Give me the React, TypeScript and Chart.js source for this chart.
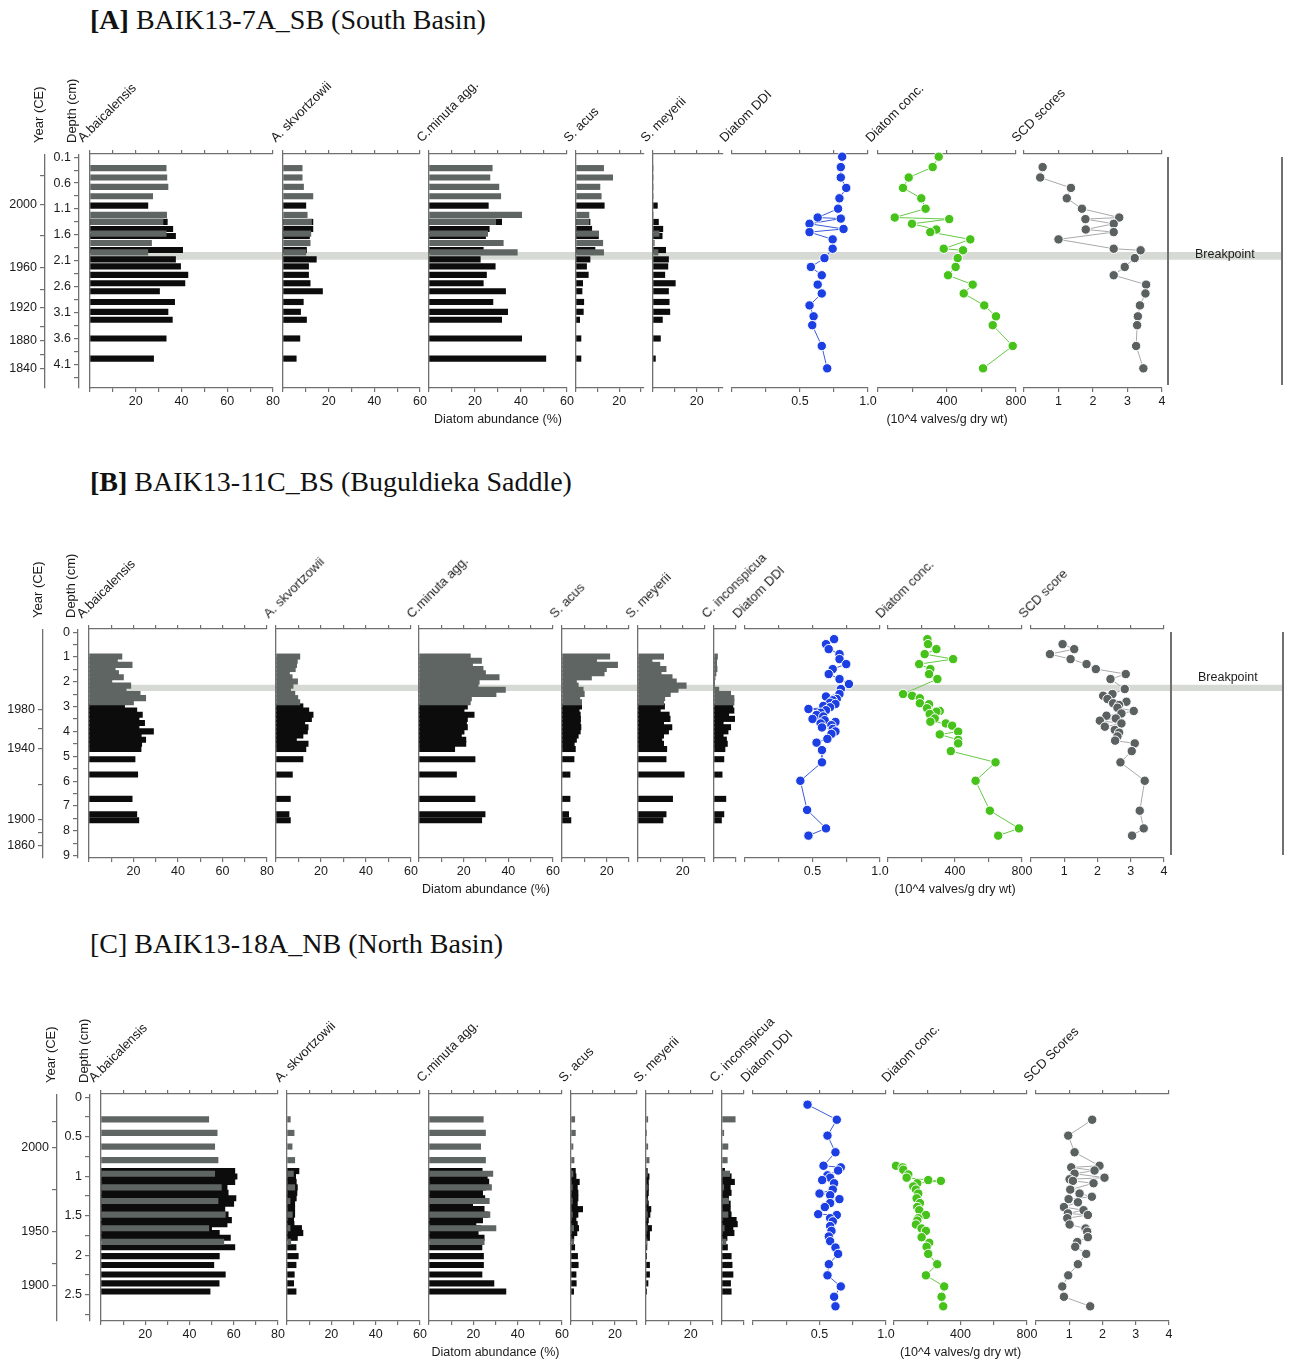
import React, { useEffect, useRef } from 'react';
import { Chart, registerables } from 'chart.js';

Chart.register(...registerables);

const SANS = '"Liberation Sans", Arial, Helvetica, sans-serif';
const SERIF = '"Liberation Serif", "Times New Roman", Times, serif';
Chart.defaults.font.family = SANS;
Chart.defaults.font.size = 12.5;
Chart.defaults.color = '#1b1b1b';

const TEXT = '#1b1b1b';
const AXIS_COLOR = '#707070';
const GRAY_BAR = '#5f6563';
const BLACK_BAR = '#0c0c0c';
const DDI_COLOR = '#1c3fe4';
const DDI_LINE = '#3b5bd9';
const CONC_COLOR = '#47c21b';
const CONC_LINE = '#66c944';
const SCD_COLOR = '#5b6060';
const SCD_LINE = '#a9a9a9';
const BAND_COLOR = '#d7dad4';

type Pair = [number, number]; // [value, depth cm]

// ================= DATA : [A] BAIK13-7A_SB =================
const A_GRAY_DEPTH = [0.1, 0.3, 0.5, 0.7, 1.1, 1.25, 1.5, 1.7, 1.9];
const A_BLACK_DEPTH = [0.9, 1.25, 1.4, 1.55, 1.85, 2.05, 2.2, 2.38, 2.56, 2.73, 2.96, 3.17, 3.34, 3.74, 4.17];
const A_BAIC_GRAY = [33.3, 33.6, 34.1, 27.4, 33.5, 31.9, 33.3, 26.9, 25.3];
const A_BAIC_BLACK = [25.3, 33.8, 36.2, 37.4, 40.5, 37.4, 39.6, 42.8, 41.5, 30.4, 37.0, 34.1, 36.0, 33.3, 27.8];
const A_SKV_GRAY = [8.4, 8.4, 9.0, 13.1, 10.6, 12.5, 12.2, 11.9, 10.0];
const A_SKV_BLACK = [10.0, 13.1, 13.1, 11.6, 10.3, 14.6, 11.2, 11.2, 11.9, 17.3, 8.9, 7.7, 10.3, 7.4, 5.8];
const A_CMIN_GRAY = [27.5, 26.5, 30.4, 31.2, 40.3, 29.0, 25.5, 32.3, 38.4];
const A_CMIN_BLACK = [25.8, 31.6, 26.2, 24.6, 23.6, 22.3, 28.8, 25.0, 23.6, 33.3, 27.8, 34.2, 31.6, 40.3, 50.8];
const A_SACUS_GRAY = [12.8, 17.0, 11.1, 11.7, 6.0, 6.0, 10.5, 12.4, 12.8];
const A_SACUS_BLACK = [13.1, 6.5, 7.3, 10.4, 8.8, 6.5, 4.9, 5.7, 3.1, 2.8, 3.6, 3.4, 1.7, 2.3, 2.3];
const A_SMEY_GRAY = [0, 0, 0, 0, 0, 0, 2.8, 0.6, 2.3];
const A_SMEY_BLACK = [2.0, 2.5, 4.5, 4.2, 5.8, 7.1, 6.8, 5.4, 10.2, 7.1, 7.4, 7.7, 4.3, 3.4, 1.1];
const A_DDI: Pair[] = [[0.81, 0.1], [0.80, 0.3], [0.80, 0.5], [0.84, 0.7], [0.79, 0.9], [0.78, 1.1], [0.63, 1.27], [0.80, 1.29], [0.57, 1.39], [0.82, 1.49], [0.57, 1.55], [0.74, 1.69], [0.74, 1.87], [0.68, 2.05], [0.58, 2.22], [0.66, 2.38], [0.63, 2.56], [0.66, 2.73], [0.57, 2.96], [0.60, 3.17], [0.59, 3.34], [0.66, 3.74], [0.70, 4.17]];
const A_CONC: Pair[] = [[352, 0.1], [317, 0.3], [178, 0.5], [145, 0.7], [251, 0.9], [276, 1.1], [97, 1.27], [413, 1.3], [197, 1.39], [338, 1.5], [303, 1.55], [535, 1.69], [381, 1.87], [493, 1.9], [462, 2.05], [450, 2.22], [406, 2.38], [549, 2.56], [497, 2.73], [616, 2.96], [684, 3.17], [665, 3.34], [781, 3.74], [609, 4.17]];
const A_SCD: Pair[] = [[0.54, 0.3], [0.47, 0.5], [1.36, 0.7], [1.24, 0.9], [1.68, 1.1], [2.76, 1.27], [1.78, 1.3], [2.60, 1.39], [1.79, 1.5], [2.60, 1.55], [1.0, 1.69], [2.60, 1.87], [3.38, 1.9], [3.21, 2.05], [2.92, 2.22], [2.60, 2.38], [3.54, 2.56], [3.52, 2.73], [3.36, 2.96], [3.30, 3.17], [3.28, 3.34], [3.25, 3.74], [3.46, 4.17]];
const A_DEPTH_TICKS = [0.1, 0.35, 0.6, 0.85, 1.1, 1.35, 1.6, 1.85, 2.1, 2.35, 2.6, 2.85, 3.1, 3.35, 3.6, 3.85, 4.1, 4.35];
const A_DEPTH_LABELS = ['0.1', '', '0.6', '', '1.1', '', '1.6', '', '2.1', '', '2.6', '', '3.1', '', '3.6', '', '4.1', ''];
const A_YEAR_DEPTHS = [0.465, 1.01, 1.61, 2.24, 2.65, 3.01, 3.38, 3.64, 3.92, 4.18];
const A_YEAR_LABELS = ['', '2000', '', '1960', '', '1920', '', '1880', '', '1840'];
const A_BREAKPOINT = 1.975;

// ================= DATA : [B] BAIK13-11C_BS =================
const B_GRAY_DEPTH = [0.3, 0.5, 0.7, 0.9, 1.1, 1.3, 1.5, 1.7, 1.9, 2.1, 2.3, 2.5];
const B_BLACK_DEPTH = [2.7, 2.9, 3.1, 3.3, 3.5, 3.7, 3.9, 4.1, 4.3, 4.5, 4.75, 5.24, 5.98, 7.15, 7.89, 8.18];
const B_BAIC_GRAY = [14.8, 12.8, 19.4, 11.8, 13.3, 15.5, 10.3, 18.8, 16.7, 23.0, 25.5, 20.0];
const B_BAIC_BLACK = [16.0, 21.5, 24.0, 22.5, 25.0, 22.5, 29.0, 23.5, 25.5, 23.7, 23.4, 20.7, 21.9, 19.4, 21.5, 22.4];
const B_SKV_GRAY = [10.6, 9.5, 9.2, 8.6, 6.0, 7.2, 9.6, 7.6, 6.5, 8.4, 9.7, 10.6];
const B_SKV_BLACK = [12.0, 14.6, 16.5, 15.8, 12.8, 14.3, 14.0, 12.0, 9.1, 14.3, 13.3, 12.0, 7.3, 6.4, 5.8, 6.4];
const B_CMIN_GRAY = [23.0, 28.0, 24.0, 28.7, 29.8, 35.9, 27.0, 26.5, 38.7, 34.5, 23.5, 23.0];
const B_CMIN_BLACK = [21.7, 20.2, 24.7, 21.7, 21.3, 21.7, 20.2, 19.0, 21.0, 21.0, 16.0, 25.1, 16.8, 25.1, 29.6, 28.1];
const B_SACUS_GRAY = [21.4, 15.5, 24.9, 19.9, 18.9, 13.2, 6.5, 7.3, 9.5, 10.0, 8.0, 8.8];
const B_SACUS_BLACK = [8.8, 7.7, 8.2, 8.3, 8.2, 8.5, 8.2, 7.3, 6.5, 5.5, 6.0, 5.4, 3.6, 3.6, 3.0, 4.0];
const B_SMEY_GRAY = [11.5, 6.3, 9.8, 12.6, 10.4, 15.3, 17.2, 21.6, 18.0, 14.5, 12.0, 11.5];
const B_SMEY_BLACK = [11.9, 10.0, 14.0, 14.4, 11.5, 15.2, 13.7, 11.5, 10.7, 11.5, 12.9, 12.6, 20.7, 15.5, 12.6, 11.2];
const B_CINC_GRAY = [1.6, 1.2, 1.2, 1.4, 0.9, 0.5, 0.2, 0.2, 2.2, 7.6, 9.1, 9.1];
const B_CINC_BLACK = [8.6, 9.1, 6.7, 9.4, 4.2, 7.6, 6.4, 4.2, 5.7, 6.1, 5.0, 4.5, 3.7, 5.4, 4.5, 3.4];
const B_DDI: Pair[] = [[0.66, 0.3], [0.60, 0.5], [0.62, 0.7], [0.70, 0.9], [0.70, 1.1], [0.75, 1.3], [0.65, 1.5], [0.62, 1.7], [0.70, 1.9], [0.77, 2.1], [0.71, 2.3], [0.70, 2.5], [0.60, 2.6], [0.68, 2.7], [0.65, 2.75], [0.63, 2.85], [0.67, 2.9], [0.58, 2.98], [0.63, 3.03], [0.47, 3.1], [0.60, 3.15], [0.56, 3.25], [0.53, 3.34], [0.58, 3.4], [0.50, 3.5], [0.59, 3.55], [0.67, 3.62], [0.56, 3.68], [0.64, 3.75], [0.57, 3.84], [0.65, 3.9], [0.67, 4.0], [0.64, 4.1], [0.61, 4.3], [0.53, 4.45], [0.57, 4.75], [0.57, 5.24], [0.41, 5.98], [0.46, 7.15], [0.60, 7.89], [0.47, 8.18]];
const B_CONC: Pair[] = [[235, 0.3], [239, 0.5], [289, 0.7], [219, 0.9], [389, 1.1], [186, 1.3], [253, 1.5], [245, 1.7], [295, 1.9], [90, 2.5], [144, 2.57], [190, 2.67], [190, 2.87], [245, 2.91], [233, 3.07], [309, 3.18], [289, 3.21], [249, 3.3], [279, 3.48], [253, 3.61], [345, 3.68], [383, 3.77], [419, 4.01], [309, 4.12], [419, 4.34], [419, 4.48], [375, 4.79], [642, 5.24], [523, 5.98], [608, 7.18], [782, 7.89], [658, 8.18]];
const B_SCD: Pair[] = [[0.95, 0.5], [1.30, 0.7], [0.57, 0.9], [1.19, 1.1], [1.67, 1.3], [1.95, 1.5], [2.85, 1.7], [2.39, 1.9], [2.82, 2.3], [2.45, 2.5], [2.17, 2.57], [2.30, 2.7], [2.87, 2.81], [2.47, 2.87], [2.65, 2.94], [2.60, 3.05], [3.09, 3.18], [2.72, 3.28], [2.27, 3.37], [2.55, 3.48], [2.07, 3.57], [2.72, 3.68], [2.22, 3.81], [2.52, 3.94], [2.65, 4.05], [2.60, 4.2], [2.53, 4.37], [3.12, 4.48], [3.03, 4.79], [2.69, 5.24], [3.42, 5.98], [3.27, 7.18], [3.39, 7.89], [3.04, 8.18]];
const B_DEPTH_TICKS = [0, 0.5, 1, 1.5, 2, 2.5, 3, 3.5, 4, 4.5, 5, 5.5, 6, 6.5, 7, 7.5, 8, 8.5, 9];
const B_DEPTH_LABELS = ['0', '', '1', '', '2', '', '3', '', '4', '', '5', '', '6', '', '7', '', '8', '', '9'];
const B_YEAR_DEPTHS = [3.11, 3.9, 4.68, 6.15, 7.55, 8.09, 8.6];
const B_YEAR_LABELS = ['1980', '', '1940', '', '1900', '', '1860'];
const B_BREAKPOINT = 1.805;

// ================= DATA : [C] BAIK13-18A_NB =================
const C_GRAY_DEPTH = [0.1, 0.3, 0.5, 0.7, 0.9, 1.1, 1.3, 1.5, 1.7, 1.9];
const C_BLACK_DEPTH = [0.86, 0.94, 1.02, 1.10, 1.18, 1.26, 1.34, 1.42, 1.50, 1.58, 1.64, 1.70, 1.77, 1.84, 1.98, 2.11, 2.24, 2.38, 2.51, 2.63];
const C_BAIC_GRAY = [48.7, 52.5, 51.4, 52.9, 51.4, 54.4, 52.9, 56.2, 48.7, 55.5];
const C_BAIC_BLACK = [60.5, 61.5, 60.5, 57.0, 57.5, 61.0, 60.0, 56.0, 57.5, 59.0, 57.0, 50.0, 53.5, 58.5, 60.5, 53.5, 51.0, 56.2, 53.4, 49.3];
const C_SKV_GRAY = [1.5, 3.2, 2.3, 3.5, 2.9, 3.5, 1.4, 2.4, 1.4, 1.7];
const C_SKV_BLACK = [5.4, 3.9, 4.2, 4.7, 4.5, 4.2, 3.5, 3.5, 3.5, 3.0, 3.2, 6.6, 7.2, 4.7, 4.1, 5.1, 4.1, 3.3, 3.0, 4.1];
const C_CMIN_GRAY = [24.5, 25.5, 23.3, 25.5, 28.8, 28.2, 27.2, 27.5, 30.2, 24.9];
const C_CMIN_BLACK = [24.0, 26.3, 27.0, 25.5, 24.2, 25.2, 19.7, 24.9, 26.7, 24.2, 21.2, 23.4, 22.2, 24.9, 23.9, 24.6, 24.6, 23.9, 29.3, 34.7];
const C_SACUS_GRAY = [1.7, 2.0, 0.9, 1.4, 0.9, 0.6, 0.6, 0.6, 1.2, 1.2];
const C_SACUS_BLACK = [2.0, 2.3, 3.8, 2.9, 3.2, 3.2, 2.9, 5.3, 3.2, 2.3, 2.9, 3.5, 2.7, 1.3, 1.7, 3.0, 3.3, 2.3, 2.4, 1.2];
const C_SMEY_GRAY = [0.8, 0.3, 0.8, 1.4, 0.6, 0.6, 0.5, 0.6, 0.5, 0.5];
const C_SMEY_BLACK = [0.6, 1.4, 1.1, 1.1, 1.1, 0.8, 1.1, 2.2, 1.8, 1.1, 0.8, 2.5, 1.6, 1.6, 0.4, 0.3, 1.6, 1.6, 0.9, 0.3];
const C_CINC_GRAY = [6.0, 0.8, 2.7, 2.4, 3.5, 0.8, 3.0, 2.7, 1.0, 1.8];
const C_CINC_BLACK = [1.2, 4.2, 5.7, 3.8, 4.2, 3.0, 3.8, 3.8, 4.2, 6.5, 7.0, 5.0, 5.5, 2.3, 2.5, 4.2, 4.6, 5.0, 3.9, 4.2];
const C_DDI: Pair[] = [[0.41, 0.1], [0.63, 0.29], [0.56, 0.49], [0.62, 0.70], [0.53, 0.87], [0.66, 0.89], [0.64, 0.93], [0.56, 0.99], [0.58, 1.02], [0.52, 1.05], [0.61, 1.09], [0.60, 1.17], [0.50, 1.22], [0.58, 1.24], [0.65, 1.29], [0.58, 1.34], [0.54, 1.39], [0.49, 1.48], [0.63, 1.49], [0.58, 1.53], [0.60, 1.57], [0.58, 1.63], [0.59, 1.69], [0.57, 1.76], [0.58, 1.82], [0.62, 1.90], [0.64, 1.98], [0.57, 2.11], [0.56, 2.25], [0.66, 2.39], [0.61, 2.52], [0.62, 2.64]];
const C_CONC: Pair[] = [[12, 0.87], [52, 0.89], [56, 0.92], [86, 0.98], [76, 1.02], [206, 1.05], [282, 1.06], [140, 1.09], [116, 1.13], [132, 1.17], [146, 1.22], [136, 1.28], [156, 1.34], [140, 1.39], [152, 1.43], [192, 1.49], [146, 1.53], [140, 1.56], [132, 1.61], [166, 1.66], [192, 1.69], [166, 1.77], [212, 1.84], [196, 1.89], [206, 1.98], [260, 2.11], [192, 2.25], [302, 2.39], [286, 2.52], [296, 2.64]];
const C_SCD: Pair[] = [[1.69, 0.29], [0.97, 0.49], [1.16, 0.70], [1.91, 0.87], [1.06, 0.89], [1.76, 0.93], [1.16, 0.97], [2.06, 1.02], [1.01, 1.04], [1.11, 1.06], [1.73, 1.09], [1.03, 1.17], [1.31, 1.22], [1.68, 1.26], [0.98, 1.29], [1.26, 1.33], [0.84, 1.39], [1.43, 1.43], [0.96, 1.47], [1.56, 1.49], [0.94, 1.53], [1.01, 1.61], [1.49, 1.66], [1.54, 1.70], [1.56, 1.77], [1.24, 1.83], [1.18, 1.89], [1.51, 1.98], [1.26, 2.11], [0.97, 2.25], [0.79, 2.39], [0.84, 2.52], [1.63, 2.64]];
const C_DEPTH_TICKS = [0, 0.25, 0.5, 0.75, 1, 1.25, 1.5, 1.75, 2, 2.25, 2.5, 2.75];
const C_DEPTH_LABELS = ['0', '', '0.5', '', '1', '', '1.5', '', '2', '', '2.5', ''];
const C_YEAR_DEPTHS = [0.31, 0.64, 1.175, 1.70, 2.1, 2.38];
const C_YEAR_LABELS = ['', '2000', '', '1950', '', '1900'];

// ================= axis ticks =================
const TICKS_0_80 = [0, 10, 20, 30, 40, 50, 60, 70, 80];
const TICKS_0_60 = [0, 10, 20, 30, 40, 50, 60];
const TICKS_0_30 = [0, 10, 20, 30];
const TICKS_INC = [0, 10];
const TICKS_DDI = [0, 0.25, 0.5, 0.75, 1];
const TICKS_CONC = [0, 200, 400, 600, 800];
const TICKS_SCD = [0, 1, 2, 3, 4];
const LABELS_0_80 = [20, 40, 60, 80];
const LABELS_0_60 = [20, 40, 60];
const LABELS_0_30 = [20];
const LABELS_NONE: number[] = [];
const LABELS_DDI = [0.5, 1];
const LABELS_CONC = [400, 800];
const LABELS_SCD = [1, 2, 3, 4];

// ================= layout types =================
interface Strip {
  kind: 'bar' | 'line';
  title: string;
  x0: number; x1: number; max: number;
  ticks: number[]; labels: number[]; decimals?: number;
  gray?: number[]; black?: number[];
  pts?: Pair[]; color?: string; line?: string;
}
interface Panel {
  id: string; heading: string; subtitle: string; bold: boolean; titleTop: number;
  top: number; bottom: number; dmin: number; dmax: number; barT: number;
  grayDepth: number[]; blackDepth: number[]; strips: Strip[];
  depthX: number; depthTicks: number[]; depthLabels: string[];
  yearX: number; yearTicks: number[]; yearLabels: string[];
  yearTitleX: number; depthTitleX: number; vTitleBottom: number; labelBase: number;
  bp?: { depth: number; thick: number; x0: number; x1: number; lines: number[]; lineTop: number; lineBottom: number; textX: number; textY: number };
}

function bars(title: string, x0: number, x1: number, max: number, ticks: number[], labels: number[], gray: number[], black: number[]): Strip {
  return { kind: 'bar', title, x0, x1, max, ticks, labels, gray, black };
}
function pts(title: string, x0: number, x1: number, max: number, ticks: number[], labels: number[], p: Pair[], color: string, line: string, decimals = 0): Strip {
  return { kind: 'line', title, x0, x1, max, ticks, labels, pts: p, color, line, decimals };
}

const PANELS: Panel[] = [
  {
    id: 'A', heading: '[A]', subtitle: 'BAIK13-7A_SB (South Basin)', bold: true, titleTop: 6,
    top: 154, bottom: 388, dmin: 0.048, dmax: 4.548, barT: 5.5,
    grayDepth: A_GRAY_DEPTH, blackDepth: A_BLACK_DEPTH,
    strips: [
      bars('A.baicalensis', 90, 273, 80, TICKS_0_80, LABELS_0_80, A_BAIC_GRAY, A_BAIC_BLACK),
      bars('A. skvortzowii', 283, 420, 60, TICKS_0_60, LABELS_0_60, A_SKV_GRAY, A_SKV_BLACK),
      bars('C.minuta agg.', 429, 567, 60, TICKS_0_60, LABELS_0_60, A_CMIN_GRAY, A_CMIN_BLACK),
      bars('S. acus', 576, 644, 31.5, TICKS_0_30, LABELS_0_30, A_SACUS_GRAY, A_SACUS_BLACK),
      bars('S. meyerii', 653, 723, 32, TICKS_0_30, LABELS_0_30, A_SMEY_GRAY, A_SMEY_BLACK),
      pts('Diatom DDI', 732, 868, 1, TICKS_DDI, LABELS_DDI, A_DDI, DDI_COLOR, DDI_LINE, 1),
      pts('Diatom conc.', 878, 1016, 800, TICKS_CONC, LABELS_CONC, A_CONC, CONC_COLOR, CONC_LINE),
      pts('SCD scores', 1024, 1162, 4, TICKS_SCD, LABELS_SCD, A_SCD, SCD_COLOR, SCD_LINE),
    ],
    depthX: 79, depthTicks: A_DEPTH_TICKS, depthLabels: A_DEPTH_LABELS,
    yearX: 45, yearTicks: A_YEAR_DEPTHS, yearLabels: A_YEAR_LABELS,
    yearTitleX: 38.3, depthTitleX: 71.7, vTitleBottom: 143.3, labelBase: 143,
    bp: { depth: A_BREAKPOINT, thick: 7, x0: 90, x1: 1282, lines: [1168, 1282], lineTop: 157, lineBottom: 385, textX: 1195, textY: 254 },
  },
  {
    id: 'B', heading: '[B]', subtitle: 'BAIK13-11C_BS (Buguldieka Saddle)', bold: true, titleTop: 467.6,
    top: 629, bottom: 858, dmin: -0.108, dmax: 9.077, barT: 5.4,
    grayDepth: B_GRAY_DEPTH, blackDepth: B_BLACK_DEPTH,
    strips: [
      bars('A.baicalensis', 89, 267, 80, TICKS_0_80, LABELS_0_80, B_BAIC_GRAY, B_BAIC_BLACK),
      bars('A. skvortzowii', 276, 411, 60, TICKS_0_60, LABELS_0_60, B_SKV_GRAY, B_SKV_BLACK),
      bars('C.minuta agg.', 419, 553, 60, TICKS_0_60, LABELS_0_60, B_CMIN_GRAY, B_CMIN_BLACK),
      bars('S. acus', 562, 629, 30, TICKS_0_30, LABELS_0_30, B_SACUS_GRAY, B_SACUS_BLACK),
      bars('S. meyerii', 638, 705, 30, TICKS_0_30, LABELS_0_30, B_SMEY_GRAY, B_SMEY_BLACK),
      bars('C. inconspicua', 714, 736, 10, TICKS_INC, LABELS_NONE, B_CINC_GRAY, B_CINC_BLACK),
      pts('Diatom DDI', 745, 880, 1, TICKS_DDI, LABELS_DDI, B_DDI, DDI_COLOR, DDI_LINE, 1),
      pts('Diatom conc.', 888, 1022, 800, TICKS_CONC, LABELS_CONC, B_CONC, CONC_COLOR, CONC_LINE),
      pts('SCD score', 1031, 1164, 4, TICKS_SCD, LABELS_SCD, B_SCD, SCD_COLOR, SCD_LINE),
    ],
    depthX: 78, depthTicks: B_DEPTH_TICKS, depthLabels: B_DEPTH_LABELS,
    yearX: 43, yearTicks: B_YEAR_DEPTHS, yearLabels: B_YEAR_LABELS,
    yearTitleX: 37.3, depthTitleX: 70.7, vTitleBottom: 618.3, labelBase: 619,
    bp: { depth: B_BREAKPOINT, thick: 5.5, x0: 89, x1: 1283, lines: [1171, 1283], lineTop: 632, lineBottom: 855, textX: 1198, textY: 677 },
  },
  {
    id: 'C', heading: '[C]', subtitle: 'BAIK13-18A_NB (North Basin)', bold: false, titleTop: 930,
    top: 1094, bottom: 1321, dmin: -0.034, dmax: 2.825, barT: 5.5,
    grayDepth: C_GRAY_DEPTH, blackDepth: C_BLACK_DEPTH,
    strips: [
      bars('A.baicalensis', 101, 278, 80, TICKS_0_80, LABELS_0_80, C_BAIC_GRAY, C_BAIC_BLACK),
      bars('A. skvortzowii', 287, 420, 60, TICKS_0_60, LABELS_0_60, C_SKV_GRAY, C_SKV_BLACK),
      bars('C.minuta agg.', 429, 562, 60, TICKS_0_60, LABELS_0_60, C_CMIN_GRAY, C_CMIN_BLACK),
      bars('S. acus', 571, 637, 30, TICKS_0_30, LABELS_0_30, C_SACUS_GRAY, C_SACUS_BLACK),
      bars('S. meyerii', 646, 713, 30, TICKS_0_30, LABELS_0_30, C_SMEY_GRAY, C_SMEY_BLACK),
      bars('C. inconspicua', 722, 744, 10, TICKS_INC, LABELS_NONE, C_CINC_GRAY, C_CINC_BLACK),
      pts('Diatom DDI', 753, 886, 1, TICKS_DDI, LABELS_DDI, C_DDI, DDI_COLOR, DDI_LINE, 1),
      pts('Diatom conc.', 894, 1027, 800, TICKS_CONC, LABELS_CONC, C_CONC, CONC_COLOR, CONC_LINE),
      pts('SCD Scores', 1036, 1169, 4, TICKS_SCD, LABELS_SCD, C_SCD, SCD_COLOR, SCD_LINE),
    ],
    depthX: 90, depthTicks: C_DEPTH_TICKS, depthLabels: C_DEPTH_LABELS,
    yearX: 57, yearTicks: C_YEAR_DEPTHS, yearLabels: C_YEAR_LABELS,
    yearTitleX: 50, depthTitleX: 83.3, vTitleBottom: 1082.7, labelBase: 1083,
  },
];

// ================= chart builders =================
const PADX = 24;
const TOPH = 9;
const BOTH = 28;
const AXW = 44;
const PADY = 10;

const baseOptions = (padding: any) => ({
  responsive: false,
  animation: false,
  events: [],
  layout: { padding },
  plugins: { legend: { display: false }, tooltip: { enabled: false }, title: { display: false } },
});

function xAxis(s: Strip, pos: 'top' | 'bottom') {
  return {
    type: 'linear',
    position: pos,
    min: 0,
    max: s.max,
    afterBuildTicks: (sc: any) => { sc.ticks = s.ticks.map((v) => ({ value: v })); },
    afterFit: (sc: any) => { sc.height = pos === 'top' ? TOPH : BOTH; },
    grid: { display: true, drawOnChartArea: false, drawTicks: true, tickLength: 4, color: AXIS_COLOR, lineWidth: 1.2 },
    border: { display: true, color: AXIS_COLOR, width: 1.3 },
    ticks: pos === 'top'
      ? { display: false }
      : {
          display: true, autoSkip: false, maxRotation: 0, minRotation: 0, padding: 2, color: TEXT,
          font: { size: 12.5, family: SANS },
          callback: (v: number) => (s.labels.includes(v) ? (s.decimals ? v.toFixed(s.decimals) : String(v)) : ''),
        },
  };
}

function stripConfig(s: Strip, p: Panel): any {
  const isBar = s.kind === 'bar';
  const scales: any = {
    x: xAxis(s, 'bottom'),
    xTop: xAxis(s, 'top'),
    y: {
      type: 'linear', min: p.dmin, max: p.dmax, reverse: true, position: 'left', display: isBar,
      ticks: { display: false },
      grid: { display: true, drawOnChartArea: false, drawTicks: false, color: AXIS_COLOR },
      border: { display: true, color: AXIS_COLOR, width: 1.3 },
      afterFit: (sc: any) => { sc.width = 0; },
    },
  };
  const options: any = { ...baseOptions({ left: PADX, right: PADX, top: 0, bottom: 0 }), scales };
  if (isBar) {
    const mk = (depths: number[], vals: number[], color: string) => ({
      data: depths.map((d, i) => ({ x: vals[i], y: d })),
      backgroundColor: color,
      borderWidth: 0,
      barThickness: p.barT,
      grouped: false,
      xAxisID: 'x',
      yAxisID: 'y',
    });
    return {
      type: 'bar',
      data: { datasets: [mk(p.grayDepth, s.gray!, GRAY_BAR), mk(p.blackDepth, s.black!, BLACK_BAR)] },
      options: { ...options, indexAxis: 'y' },
    };
  }
  return {
    type: 'scatter',
    data: {
      datasets: [{
        data: s.pts!.map(([v, d]) => ({ x: v, y: d })),
        showLine: true,
        borderColor: s.line,
        borderWidth: 1,
        backgroundColor: s.color,
        pointBackgroundColor: s.color,
        pointBorderColor: '#ffffff',
        pointBorderWidth: 1,
        pointRadius: 4.7,
        tension: 0,
        clip: false,
        xAxisID: 'x',
        yAxisID: 'y',
      }],
    },
    options,
  };
}

function sideAxisConfig(p: Panel, ticks: number[], labels: string[], tickLen: number): any {
  return {
    type: 'scatter',
    data: { datasets: [] },
    options: {
      ...baseOptions({ left: 0, right: 0, top: PADY, bottom: PADY }),
      scales: {
        x: { display: false, min: 0, max: 1 },
        y: {
          type: 'linear', min: p.dmin, max: p.dmax, reverse: true, position: 'left',
          afterFit: (sc: any) => { sc.width = AXW; },
          afterBuildTicks: (sc: any) => { sc.ticks = ticks.map((v) => ({ value: v })); },
          ticks: { autoSkip: false, padding: 3, color: TEXT, font: { size: 12.5, family: SANS }, callback: (_v: number, i: number) => labels[i] ?? '' },
          grid: { display: true, drawOnChartArea: false, drawTicks: true, tickLength: tickLen, color: AXIS_COLOR, lineWidth: 1.2 },
          border: { display: true, color: AXIS_COLOR, width: 1.3 },
        },
      },
    },
  };
}

function bandConfig(p: Panel): any {
  const bp = p.bp!;
  return {
    type: 'bar',
    data: { datasets: [{ data: [{ x: [0, 1], y: bp.depth }], backgroundColor: BAND_COLOR, borderWidth: 0, barThickness: bp.thick, grouped: false }] },
    options: {
      ...baseOptions(0),
      indexAxis: 'y',
      scales: {
        x: { display: false, min: 0, max: 1 },
        y: { display: false, type: 'linear', min: p.dmin, max: p.dmax, reverse: true },
      },
    },
  };
}

// ================= components =================
function ChartCanvas({ left, top, width, height, make }: { left: number; top: number; width: number; height: number; make: () => any }) {
  const ref = useRef<HTMLCanvasElement | null>(null);
  useEffect(() => {
    if (!ref.current) return;
    const chart = new Chart(ref.current, make());
    return () => chart.destroy();
  }, []);
  return (
    <div style={{ position: 'absolute', left, top, width, height }}>
      <canvas ref={ref} width={width} height={height} style={{ display: 'block', width, height }} />
    </div>
  );
}

const rot45 = (x: number, y: number, text: string, key: string) => (
  <div key={key} style={{ position: 'absolute', left: x - 7.8, top: y - 7.8, fontFamily: SANS, fontSize: 13, lineHeight: '13px', whiteSpace: 'nowrap', color: TEXT, transform: 'rotate(-45deg)', transformOrigin: '0 0' }}>{text}</div>
);
const rot90 = (cx: number, bottom: number, text: string, key: string) => (
  <div key={key} style={{ position: 'absolute', left: cx - 6.5, top: bottom, fontFamily: SANS, fontSize: 13, lineHeight: '13px', whiteSpace: 'nowrap', color: TEXT, transform: 'rotate(-90deg)', transformOrigin: '0 0' }}>{text}</div>
);
const centered = (cx: number, cy: number, text: string, key: string) => (
  <div key={key} style={{ position: 'absolute', left: cx, top: cy - 7, fontFamily: SANS, fontSize: 12.5, lineHeight: '14px', whiteSpace: 'nowrap', color: TEXT, transform: 'translateX(-50%)' }}>{text}</div>
);

function PanelView({ p }: { p: Panel }) {
  const h = p.bottom - p.top;
  const items: any[] = [];
  if (p.bp) {
    const bp = p.bp;
    items.push(<ChartCanvas key="band" left={bp.x0} top={p.top} width={bp.x1 - bp.x0} height={h} make={() => bandConfig(p)} />);
    bp.lines.forEach((x, i) => items.push(
      <div key={'ln' + i} style={{ position: 'absolute', left: x - 0.7, top: bp.lineTop, width: 1.4, height: bp.lineBottom - bp.lineTop, background: AXIS_COLOR }} />
    ));
    items.push(
      <div key="bptext" style={{ position: 'absolute', left: bp.textX, top: bp.textY - 7, fontFamily: SANS, fontSize: 12.5, lineHeight: '14px', color: TEXT, whiteSpace: 'nowrap' }}>Breakpoint</div>
    );
  }
  items.push(<ChartCanvas key="depth" left={p.depthX - AXW} top={p.top - PADY} width={AXW + 6} height={h + 2 * PADY} make={() => sideAxisConfig(p, p.depthTicks, p.depthLabels, 5)} />);
  items.push(<ChartCanvas key="year" left={p.yearX - AXW} top={p.top - PADY} width={AXW + 6} height={h + 2 * PADY} make={() => sideAxisConfig(p, p.yearTicks, p.yearLabels, 5)} />);
  p.strips.forEach((s, i) => {
    items.push(
      <ChartCanvas key={'s' + i} left={s.x0 - PADX} top={p.top - TOPH} width={s.x1 - s.x0 + 2 * PADX} height={h + TOPH + BOTH} make={() => stripConfig(s, p)} />
    );
    items.push(rot45(s.x0 - 7, p.labelBase, s.title, 't' + i));
  });
  items.push(rot90(p.yearTitleX, p.vTitleBottom, 'Year (CE)', 'yt'));
  items.push(rot90(p.depthTitleX, p.vTitleBottom, 'Depth (cm)', 'dt'));
  const cmin = p.strips[2];
  const conc = p.strips.find((s) => s.title === 'Diatom conc.')!;
  items.push(centered((cmin.x0 + cmin.x1) / 2, p.bottom + 31, 'Diatom abundance (%)', 'ab'));
  items.push(centered((conc.x0 + conc.x1) / 2, p.bottom + 31, '(10^4 valves/g dry wt)', 'cu'));
  items.push(
    <div key="title" style={{ position: 'absolute', left: 90, top: p.titleTop, fontFamily: SERIF, fontSize: 28, lineHeight: '28px', whiteSpace: 'nowrap', color: '#111' }}>
      <span style={{ fontWeight: p.bold ? 'bold' : 'normal' }}>{p.heading}</span> {p.subtitle}
    </div>
  );
  return <>{items}</>;
}

export default function App() {
  return (
    <div style={{ position: 'absolute', left: 0, top: 0, width: 1290, height: 1361, background: '#ffffff', overflow: 'hidden' }}>
      {PANELS.map((p) => <PanelView key={p.id} p={p} />)}
    </div>
  );
}
